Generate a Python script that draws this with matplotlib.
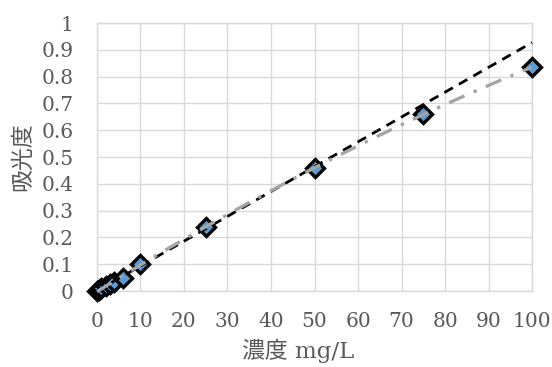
import matplotlib
matplotlib.use("Agg")
import matplotlib.pyplot as plt
import numpy as np

# 検量線データ (濃度 mg/L, 吸光度)
conc = [0, 0.5, 1, 2, 3, 4, 6, 10, 25, 50, 75, 100]
absorb = [0, 0.005, 0.01, 0.02, 0.028, 0.035, 0.05, 0.1, 0.24, 0.46, 0.66, 0.835]
x_ticks = [0, 10, 20, 30, 40, 50, 60, 70, 80, 90, 100]
y_ticks = [0, 0.1, 0.2, 0.3, 0.4, 0.5, 0.6, 0.7, 0.8, 0.9, 1]

text_color = "#595959"
grid_color = "#d9d9d9"
num_font = ["DejaVu Serif", "Noto Sans CJK JP"]

x = np.array(conc)
y = np.array(absorb)

# 直線近似は線形範囲 (<=50 mg/L) のみ、二次近似は全点
lin = np.polyfit(x[x <= 50], y[x <= 50], 1)
quad = np.polyfit(x, y, 2)
xs = np.linspace(0, 100, 200)

fig = plt.figure(figsize=(5.52, 3.67), dpi=100)
ax = fig.add_axes([0.1757, 0.207, 0.7881, 0.730])

ax.plot(x, y, "D", markersize=9.5, markerfacecolor="#5b9bd5",
        markeredgecolor="black", markeredgewidth=2.4, zorder=3, clip_on=False)
ax.plot(xs, np.polyval(lin, xs), color="black", linestyle=(0, (3.5, 2.5)),
        linewidth=2, zorder=4, clip_on=False)
ax.plot(xs, np.polyval(quad, xs), color="#a5a5a5", linestyle=(0, (5, 3, 1, 3)),
        linewidth=2.4, zorder=4, clip_on=False)

ax.set_xlim(0, 100)
ax.set_ylim(0, 1)
ax.set_xticks(x_ticks)
ax.set_yticks(y_ticks)
ax.set_xticklabels([str(t) for t in x_ticks])
ax.set_yticklabels([f"{t:g}" for t in y_ticks])
ax.grid(True, color=grid_color, linewidth=1)
ax.set_axisbelow(True)
for s in ax.spines.values():
    s.set_color(grid_color)
    s.set_linewidth(1)
ax.tick_params(length=0, colors=text_color, labelsize=14.5)
ax.tick_params(axis="y", pad=17)
ax.tick_params(axis="x", pad=15)
for lab in ax.get_xticklabels() + ax.get_yticklabels():
    lab.set_family(num_font)

ax.set_xlabel("濃度 mg/L", fontsize=16.5, color=text_color, family=num_font)
ax.xaxis.set_label_coords(0.462, -0.178)
ax.set_ylabel("吸光度", fontsize=16.5, color=text_color,
              family=["Noto Sans CJK JP", "DejaVu Serif"])
ax.yaxis.set_label_coords(-0.145, 0.5)

fig.savefig("out.png", dpi=100)
